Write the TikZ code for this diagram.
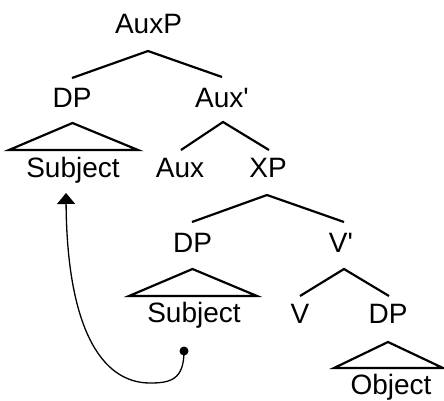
\documentclass[tikz,border=0pt]{standalone}
\usepackage{fontspec}
\setmainfont{Liberation Sans}
\usetikzlibrary{arrows.meta}
\begin{document}
\begin{tikzpicture}[x=1pt,y=-1pt,
  lbl/.style={anchor=base,inner sep=0pt,font=\fontsize{28}{32}\selectfont},
  branch/.style={line width=2.2pt,line join=miter},
  move/.style={line width=1.3pt,-{Triangle[width=18pt,length=11pt]}}]
\useasboundingbox (0,0) rectangle (444,400);

% labels
\node[lbl] (auxp)  at (148.5,33) {AuxP};
\node[lbl] (dp1)   at (72,107)   {DP};
\node[lbl] (auxb)  at (222,107)  {Aux\textquotesingle};
\node[lbl] (subj1) at (73,177)   {Subject};
\node[lbl] (aux)   at (180,177)  {Aux};
\node[lbl] (xp)    at (268,177)  {XP};
\node[lbl] (dp2)   at (192.5,252){DP};
\node[lbl] (vb)    at (341,252)  {V\textquotesingle};
\node[lbl] (subj2) at (194,322)  {Subject};
\node[lbl] (v)     at (300,323)  {V};
\node[lbl] (dp3)   at (388,323)  {DP};
\node[lbl] (obj)   at (391,394)  {Object};

% branch points
\coordinate (a0) at (148,51);  \coordinate (a1) at (72,78);   \coordinate (a2) at (222,77);
\coordinate (b0) at (223,122); \coordinate (b1) at (181,150); \coordinate (b2) at (269,150);
\coordinate (c0) at (267,195); \coordinate (c1) at (192,222); \coordinate (c2) at (344,222);
\coordinate (d0) at (344,269); \coordinate (d1) at (300,296); \coordinate (d2) at (389,296);

\draw[branch] (a1) -- (a0) -- (a2);
\draw[branch] (b1) -- (b0) -- (b2);
\draw[branch] (c1) -- (c0) -- (c2);
\draw[branch] (d1) -- (d0) -- (d2);

% triangles over the phrases
\draw[branch] (9,150) -- (72.5,123) -- (138,150) -- cycle;
\draw[branch] (129,296) -- (192.5,269) -- (257,296) -- cycle;
\draw[branch] (334,368) -- (388,342) -- (443,368) -- cycle;

% movement arrow
\node[circle,fill,inner sep=0pt,minimum size=9pt] (trace) at (184,351) {};
\coordinate (landing) at (66,193);
\draw[move] (trace.center) .. controls (184,380) and (170,383) .. (150,383)
  .. controls (100,383) and (67,325) .. (landing);
\end{tikzpicture}
\end{document}
